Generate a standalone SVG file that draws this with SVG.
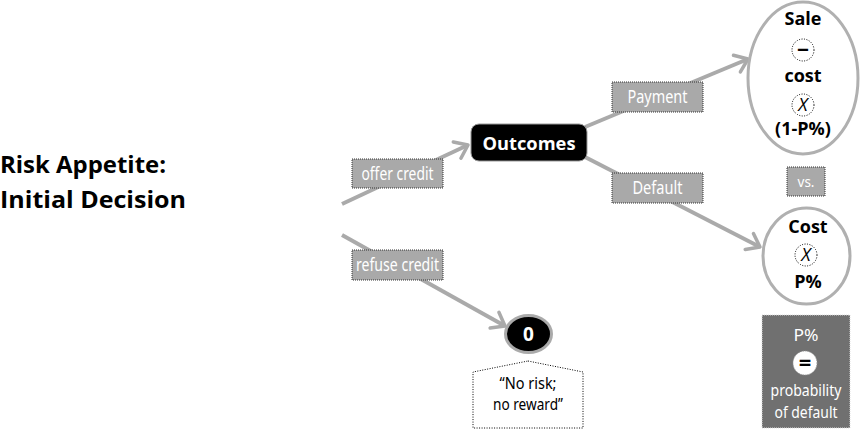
<svg xmlns="http://www.w3.org/2000/svg" width="864" height="430" viewBox="0 0 864 430">
<style>
.title{font-family:"Open Sans","Liberation Sans",sans-serif;font-weight:bold;font-size:24px;fill:#000}
.lbl{fill:#a9a9a9;stroke:#333;stroke-width:1;stroke-dasharray:1,1}
.lt{font-family:"Noto Sans","Liberation Sans",sans-serif;font-size:18px;fill:#fff;text-anchor:middle}
.conn{stroke:#aaa;stroke-width:4;fill:none;marker-end:url(#arr)}
.bt{font-family:"Open Sans","Liberation Sans",sans-serif;font-weight:bold;font-size:18px;fill:#000;text-anchor:middle}
.op{fill:#fff;stroke:#000;stroke-width:1;stroke-dasharray:1,1.5}
.ot{font-family:"Open Sans","Liberation Sans",sans-serif;font-style:italic;font-size:18px;fill:#000;text-anchor:middle}
.big{fill:#fff;stroke:#b0b0b0;stroke-width:3}
.wt{font-family:"Noto Sans","Liberation Sans",sans-serif;font-size:17px;fill:#fff;text-anchor:middle}
.nt{font-family:"Noto Sans","Liberation Sans",sans-serif;font-size:16px;fill:#000;text-anchor:middle}
</style>
<defs>
<marker id="arr" markerUnits="userSpaceOnUse" markerWidth="24" markerHeight="24" refX="14" refY="10" orient="auto" viewBox="0 0 24 20">
<path d="M2,1 L14,10 L2,19" fill="none" stroke="#aaa" stroke-width="3.5" stroke-linecap="round" stroke-linejoin="round"/>
</marker>
</defs>

<g id="title">
<text class="title" x="0" y="173" textLength="166" lengthAdjust="spacingAndGlyphs">Risk Appetite:</text>
<text class="title" x="0" y="208" textLength="186" lengthAdjust="spacingAndGlyphs">Initial Decision</text>
</g>

<g id="connectors">
<line class="conn" x1="342" y1="204" x2="468" y2="145"/>
<line class="conn" x1="342" y1="235" x2="505" y2="326"/>
<line class="conn" x1="585" y1="127" x2="748" y2="59"/>
<line class="conn" x1="585" y1="157" x2="760" y2="247"/>
</g>

<g id="label-offer">
<rect class="lbl" x="352" y="159" width="91" height="29"/>
<text class="lt" x="397.5" y="180" textLength="72" lengthAdjust="spacingAndGlyphs">offer credit</text>
</g>
<g id="label-refuse">
<rect class="lbl" x="352" y="250" width="91" height="30"/>
<text class="lt" x="397.5" y="271" textLength="83" lengthAdjust="spacingAndGlyphs">refuse credit</text>
</g>
<g id="label-payment">
<rect class="lbl" x="612" y="82" width="91" height="30"/>
<text class="lt" x="657.5" y="103" textLength="60" lengthAdjust="spacingAndGlyphs">Payment</text>
</g>
<g id="label-default">
<rect class="lbl" x="612" y="173" width="91" height="30"/>
<text class="lt" x="657.5" y="194" textLength="50" lengthAdjust="spacingAndGlyphs">Default</text>
</g>

<g id="outcomes">
<rect x="471" y="124" width="116" height="37" rx="8" ry="8" fill="#000" stroke="#999" stroke-width="1"/>
<text x="529" y="150" font-family="Open Sans, Liberation Sans, sans-serif" font-weight="bold" font-size="18" fill="#fff" text-anchor="middle" textLength="93" lengthAdjust="spacingAndGlyphs">Outcomes</text>
</g>

<g id="zero">
<ellipse cx="528.5" cy="334" rx="23" ry="18.5" fill="#000" stroke="#aaa" stroke-width="3"/>
<text x="528.5" y="341" font-family="Open Sans, Liberation Sans, sans-serif" font-weight="bold" font-size="19" fill="#fff" text-anchor="middle">0</text>
</g>

<g id="no-risk">
<path d="M528,361 L583,372 L583,428 L473,428 L473,372 Z" fill="#fff" stroke="#000" stroke-width="1" stroke-dasharray="1,1.5"/>
<text class="nt" x="528" y="389" textLength="57" lengthAdjust="spacingAndGlyphs">“No risk;</text>
<text class="nt" x="528" y="410" textLength="70" lengthAdjust="spacingAndGlyphs">no reward”</text>
</g>

<g id="sale">
<ellipse class="big" cx="803" cy="78" rx="55" ry="76"/>
<text class="bt" x="803" y="25">Sale</text>
<circle class="op" cx="803" cy="50" r="11"/>
<text x="803" y="57" font-family="Open Sans, Liberation Sans, sans-serif" font-weight="bold" font-size="21" fill="#000" text-anchor="middle">−</text>
<text class="bt" x="803" y="82">cost</text>
<circle class="op" cx="803" cy="105" r="11"/>
<text class="ot" x="803" y="111">X</text>
<text class="bt" x="803" y="135">(1-P%)</text>
</g>

<g id="vs">
<rect class="lbl" x="787" y="167" width="38" height="29"/>
<text x="806" y="187" font-family="Noto Sans, Liberation Sans, sans-serif" font-size="15" fill="#fff" text-anchor="middle" textLength="17" lengthAdjust="spacingAndGlyphs">vs.</text>
</g>

<g id="cost">
<ellipse class="big" cx="806.5" cy="256" rx="43.5" ry="48"/>
<text class="bt" x="808" y="233">Cost</text>
<circle class="op" cx="806" cy="255" r="11"/>
<text class="ot" x="806" y="261">X</text>
<text class="bt" x="808" y="288">P%</text>
</g>

<g id="pdef">
<rect x="762" y="315" width="88" height="113" fill="#707070" stroke="#ddd" stroke-width="1" stroke-dasharray="1,1"/>
<text class="wt" x="806" y="341" textLength="25" lengthAdjust="spacingAndGlyphs">P%</text>
<circle cx="805" cy="363" r="12" fill="#fff" stroke="#999" stroke-width="1" stroke-dasharray="1,1"/>
<text x="805" y="370" font-family="Open Sans, Liberation Sans, sans-serif" font-weight="bold" font-size="22" fill="#000" text-anchor="middle">=</text>
<text class="wt" x="806" y="396" textLength="71" lengthAdjust="spacingAndGlyphs">probability</text>
<text class="wt" x="806" y="418" textLength="63" lengthAdjust="spacingAndGlyphs">of default</text>
</g>
</svg>
